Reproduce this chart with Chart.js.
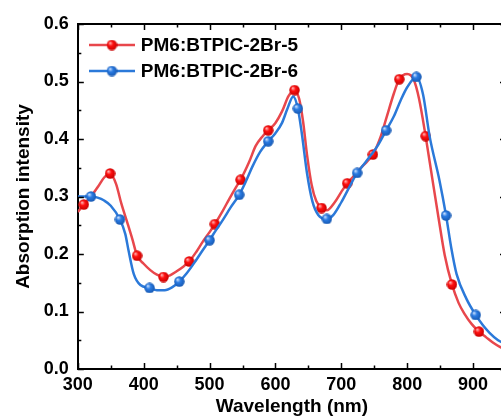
<!DOCTYPE html>
<html>
<head>
<meta charset="utf-8">
<script src="https://cdn.jsdelivr.net/npm/chart.js@4.4.1/dist/chart.umd.min.js"></script>
<style>
  html, body { margin: 0; padding: 0; background: #fff; overflow: hidden; }
  #wrap { width: 512px; height: 419px; }
</style>
</head>
<body>
<div id="wrap"><canvas id="absChart" width="512" height="419"></canvas></div>
<script>
const seriesNames = ['PM6:BTPIC-2Br-5', 'PM6:BTPIC-2Br-6'];

// PM6:BTPIC-2Br-5 (red)
const redX = [300, 309, 320, 330, 340, 349, 358, 366, 375, 383, 390, 400, 410, 420, 430, 440, 450, 460, 469, 480, 490, 500, 508, 520, 530, 540, 547, 560, 570, 580, 589, 600, 610, 620, 629, 636, 642, 648, 655, 662, 670, 678, 690, 700, 709, 720, 730, 740, 748, 760, 768, 780, 788, 800, 810, 818, 828, 838, 847, 857, 868, 878, 887, 898, 909, 920, 930, 940, 950];
const redY = [0.273, 0.286, 0.300, 0.316, 0.333, 0.340, 0.322, 0.288, 0.255, 0.225, 0.197, 0.183, 0.172, 0.164, 0.160, 0.163, 0.170, 0.178, 0.187, 0.204, 0.222, 0.238, 0.252, 0.275, 0.296, 0.316, 0.329, 0.360, 0.388, 0.404, 0.415, 0.428, 0.448, 0.475, 0.485, 0.470, 0.430, 0.372, 0.320, 0.292, 0.280, 0.276, 0.290, 0.308, 0.323, 0.337, 0.350, 0.362, 0.373, 0.405, 0.435, 0.480, 0.504, 0.513, 0.503, 0.470, 0.405, 0.332, 0.267, 0.198, 0.147, 0.115, 0.096, 0.078, 0.065, 0.055, 0.046, 0.039, 0.034];
const redMarks = [309, 349, 390, 430, 469, 508, 547, 589, 629, 670, 709, 748, 788, 828, 868, 909];

// PM6:BTPIC-2Br-6 (blue)
const blueX = [300, 310, 320, 330, 340, 350, 364, 372, 377, 385, 395, 409, 420, 432, 443, 454, 465, 477, 488, 500, 510, 520, 532, 545, 555, 565, 577, 589, 600, 610, 618, 627, 634, 640, 648, 656, 665, 678, 688, 700, 712, 724, 735, 745, 755, 768, 780, 790, 800, 814, 824, 834, 849, 859, 867, 875, 890, 904, 915, 925, 938, 950];
const blueY = [0.300, 0.300, 0.300, 0.298, 0.293, 0.284, 0.260, 0.235, 0.206, 0.165, 0.146, 0.141, 0.137, 0.137, 0.142, 0.152, 0.166, 0.185, 0.204, 0.224, 0.242, 0.259, 0.281, 0.303, 0.326, 0.352, 0.378, 0.396, 0.410, 0.428, 0.452, 0.474, 0.453, 0.410, 0.340, 0.292, 0.268, 0.261, 0.268, 0.290, 0.316, 0.341, 0.357, 0.372, 0.388, 0.415, 0.440, 0.467, 0.490, 0.508, 0.478, 0.405, 0.328, 0.267, 0.210, 0.165, 0.122, 0.094, 0.076, 0.063, 0.050, 0.043];
const blueMarks = [320, 364, 409, 454, 500, 545, 589, 634, 678, 724, 768, 814, 859, 904];

const fontFamily = '"Liberation Sans", Arial, sans-serif';
const redLine = '#e8474c';
const blueLine = '#2b79d9';

// shaded ball marker, like the origin "sphere" symbol
function makeBall(base, dark, light, size) {
  const c = document.createElement('canvas');
  c.width = size;
  c.height = size;
  const g = c.getContext('2d');
  const r = size / 2;
  const grad = g.createRadialGradient(r * 0.65, r * 0.6, 0.3, r, r, r);
  grad.addColorStop(0, light);
  grad.addColorStop(0.4, base);
  grad.addColorStop(1, dark);
  g.fillStyle = grad;
  g.beginPath();
  g.arc(r, r, r - 0.3, 0, Math.PI * 2);
  g.fill();
  return c;
}

function makeLegendIcon(lineColor, ball) {
  const c = document.createElement('canvas');
  c.width = 46;
  c.height = 14;
  const g = c.getContext('2d');
  g.strokeStyle = lineColor;
  g.lineWidth = 2.5;
  g.beginPath();
  g.moveTo(0, 7);
  g.lineTo(46, 7);
  g.stroke();
  g.drawImage(ball, 23 - ball.width / 2, 7 - ball.height / 2);
  return c;
}

const redBall = makeBall('#ff1010', '#c40000', '#ffb8b8', 11);
const blueBall = makeBall('#2a7be3', '#1657b0', '#cfe3ff', 11);
const legendIcons = [makeLegendIcon(redLine, redBall), makeLegendIcon(blueLine, blueBall)];

function markerRadius(marks) {
  return (c) => (c.raw && marks.includes(c.raw.x) ? 5 : 0);
}

// inward major/minor ticks on all four sides
const tickMarks = {
  id: 'tickMarks',
  afterDraw(chart) {
    const { ctx, chartArea: a, scales: { x, y } } = chart;
    const major = 6;
    const minor = 3.5;
    const xv = x.ticks.map(t => t.value);
    const yv = y.ticks.map(t => t.value);
    const xMinor = [];
    for (let i = 0; i < xv.length - 1; i++) xMinor.push((xv[i] + xv[i + 1]) / 2);
    const xStep = xv[1] - xv[0];
    if (xv[xv.length - 1] + xStep / 2 <= x.max) xMinor.push(xv[xv.length - 1] + xStep / 2);
    const yMinor = [];
    for (let i = 0; i < yv.length - 1; i++) yMinor.push((yv[i] + yv[i + 1]) / 2);

    ctx.save();
    ctx.strokeStyle = '#000';
    ctx.lineWidth = 1.5;
    ctx.beginPath();
    const vx = (v, len) => {
      const px = Math.round(x.getPixelForValue(v)) + 0.5;
      ctx.moveTo(px, a.bottom);
      ctx.lineTo(px, a.bottom - len);
      ctx.moveTo(px, a.top);
      ctx.lineTo(px, a.top + len);
    };
    const vy = (v, len) => {
      const py = Math.round(y.getPixelForValue(v)) + 0.5;
      ctx.moveTo(a.left, py);
      ctx.lineTo(a.left + len, py);
      ctx.moveTo(a.right, py);
      ctx.lineTo(a.right - len, py);
    };
    xv.forEach(v => vx(v, major));
    xMinor.forEach(v => vx(v, minor));
    yv.forEach(v => vy(v, major));
    yMinor.forEach(v => vy(v, minor));
    ctx.stroke();
    ctx.restore();
  }
};

// legend box inside the plot, top left
const boxLegend = {
  id: 'boxLegend',
  afterDraw(chart) {
    const { ctx, chartArea: a } = chart;
    ctx.save();
    ctx.font = 'bold 19px ' + fontFamily;
    ctx.textBaseline = 'middle';
    ctx.fillStyle = '#000';
    chart.data.datasets.forEach((ds, i) => {
      const yy = a.top + 21 + i * 26;
      const x0 = a.left + 11;
      ctx.drawImage(legendIcons[i], x0, yy - 7);
      ctx.fillText(ds.label, x0 + 52, yy + 1);
    });
    ctx.restore();
  }
};

const ctx = document.getElementById('absChart');
const absChart = new Chart(ctx, {
  type: 'line',
  data: {
    datasets: [
      {
        label: seriesNames[0],
        data: redX.map((x, i) => ({ x: x, y: redY[i] })),
        borderColor: redLine,
        borderWidth: 2.5,
        cubicInterpolationMode: 'monotone',
        pointStyle: redBall,
        pointRadius: markerRadius(redMarks),
        pointHoverRadius: markerRadius(redMarks),
        fill: false,
        order: 1
      },
      {
        label: seriesNames[1],
        data: blueX.map((x, i) => ({ x: x, y: blueY[i] })),
        borderColor: blueLine,
        borderWidth: 2.5,
        cubicInterpolationMode: 'monotone',
        pointStyle: blueBall,
        pointRadius: markerRadius(blueMarks),
        pointHoverRadius: markerRadius(blueMarks),
        fill: false,
        order: 0
      }
    ]
  },
  options: {
    responsive: false,
    animation: false,
    events: [],
    layout: { padding: { left: 12, top: 24, right: 6, bottom: 2 } },
    plugins: {
      legend: { display: false },
      tooltip: { enabled: false }
    },
    scales: {
      x: {
        type: 'linear',
        position: 'bottom',
        min: 300,
        max: 950,
        border: { display: true, color: '#000', width: 2 },
        grid: { display: false, drawTicks: false },
        ticks: {
          stepSize: 100,
          includeBounds: false,
          maxRotation: 0,
          padding: 7,
          color: '#000',
          font: { family: fontFamily, size: 18, weight: 'bold', lineHeight: 1 }
        },
        title: {
          display: true,
          text: 'Wavelength (nm)',
          color: '#000',
          font: { family: fontFamily, size: 19, weight: 'bold', lineHeight: 1 },
          padding: { top: -4, bottom: 1 }
        }
      },
      y: {
        type: 'linear',
        position: 'left',
        min: 0,
        max: 0.6,
        border: { display: true, color: '#000', width: 2 },
        grid: { display: false, drawTicks: false },
        ticks: {
          stepSize: 0.1,
          padding: 9,
          color: '#000',
          font: { family: fontFamily, size: 18, weight: 'bold' },
          callback: (v) => v.toFixed(1)
        },
        title: {
          display: true,
          text: 'Absorption intensity',
          color: '#000',
          font: { family: fontFamily, size: 19, weight: 'bold' },
          padding: { top: 0, bottom: 0 }
        }
      },
      x2: {
        type: 'linear',
        position: 'top',
        min: 300,
        max: 950,
        border: { display: true, color: '#000', width: 2 },
        grid: { display: false, drawTicks: false },
        ticks: { display: false }
      },
      y2: {
        type: 'linear',
        position: 'right',
        min: 0,
        max: 0.6,
        border: { display: true, color: '#000', width: 2 },
        grid: { display: false, drawTicks: false },
        ticks: { display: false }
      }
    }
  },
  plugins: [tickMarks, boxLegend]
});
</script>
</body>
</html>
